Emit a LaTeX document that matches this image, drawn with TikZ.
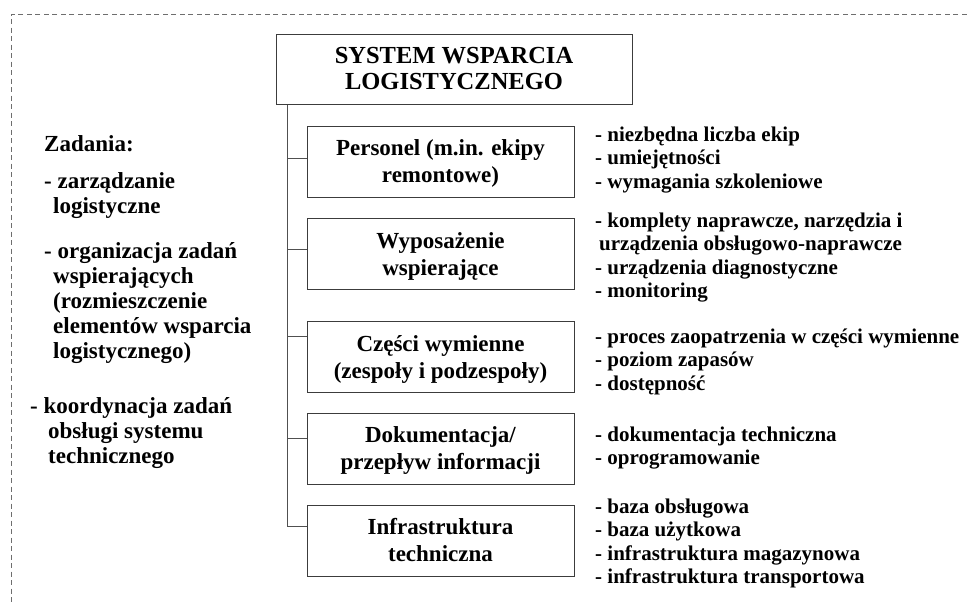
\documentclass[tikz,border=0pt]{standalone}
\usepackage{fontspec}
\setmainfont{Liberation Serif}
\newcommand{\fntTitle}{\bfseries\fontsize{24.5}{26}\selectfont}
\newcommand{\fntBox}{\bfseries\fontsize{23}{27}\selectfont}
\newcommand{\fntLeft}{\bfseries\fontsize{23}{25}\selectfont}
\newcommand{\fntRight}{\bfseries\fontsize{21}{23.5}\selectfont}
% stacked lines whose baseline is the first line
\newcommand{\LinesL}[1]{\begin{tabular}[t]{@{}l@{}}#1\end{tabular}}
% centred lines, set a little lower than the geometric centre
\newcommand{\LinesC}[1]{\raisebox{-2.5pt}[\height][\depth]{\begin{tabular}{@{}c@{}}#1\end{tabular}}}
\definecolor{boxgray}{HTML}{3C3C3C}
\definecolor{conngray}{HTML}{505050}
\definecolor{framegray}{HTML}{6E6E6E}
\begin{document}
\begin{tikzpicture}[x=1pt,y=-1pt,
  topbox/.style={draw=boxgray, line width=1pt, minimum width=356pt, minimum height=70pt, inner sep=0pt, font=\fntTitle},
  subbox/.style={draw=boxgray, line width=1pt, minimum width=267pt, minimum height=71pt, inner sep=0pt, font=\fntBox},
  conn/.style={draw=conngray, line width=0.9pt},
  frame/.style={draw=framegray, line width=0.9pt, dash pattern=on 5pt off 3.5pt},
  lefttext/.style={inner sep=0pt, anchor=base west, font=\fntLeft},
  righttext/.style={inner sep=0pt, anchor=base west, font=\fntRight}]
\useasboundingbox (0,0) rectangle (969,603);
\fill[white] (0,0) rectangle (969,603);

% outer dashed frame (open towards the right and bottom)
\draw[frame] (975,14) -- (11,14) -- (11,610);

% main box and its five components
\node[topbox] (top) at (454,69) {\LinesC{SYSTEM WSPARCIA\\LOGISTYCZNEGO}};
\node[subbox] (b1) at (440.5,161.5) {\LinesC{Personel (m.in. ekipy\\remontowe)}};
\node[subbox] (b2) at (440.5,254) {\LinesC{Wyposażenie\\wspierające}};
\node[subbox] (b3) at (440.5,357) {\LinesC{Części wymienne\\(zespoły i podzespoły)}};
\node[subbox] (b4) at (440.5,448.5) {\LinesC{Dokumentacja/\\przepływ informacji}};
\node[subbox] (b5) at (440.5,540.5) {\LinesC{Infrastruktura\\techniczna}};

% tree connectors
\coordinate (tx) at (287,0);
\coordinate (j1) at (287,158);
\coordinate (j2) at (287,249);
\coordinate (j3) at (287,336);
\coordinate (j4) at (287,438);
\coordinate (j5) at (287,526);
\draw[conn] (top.south -| tx) -- (j5) -- (j5 -| b5.west);
\draw[conn] (j1) -- (j1 -| b1.west);
\draw[conn] (j2) -- (j2 -| b2.west);
\draw[conn] (j3) -- (j3 -| b3.west);
\draw[conn] (j4) -- (j4 -| b4.west);

% tasks on the left
\node[lefttext] (zad) at (44,151) {Zadania:};
\node[lefttext] (t1) at (44,188) {\LinesL{- zarządzanie\\\hspace*{9pt}logistyczne}};
\node[lefttext] (t2) at (44,258) {\LinesL{- organizacja zadań\\\hspace*{9pt}wspierających\\\hspace*{9pt}(rozmieszczenie\\\hspace*{9pt}elementów wsparcia\\\hspace*{9pt}logistycznego)}};
\node[lefttext] (t3) at (30,413) {\LinesL{- koordynacja zadań\\\hspace*{18pt}obsługi systemu\\\hspace*{18pt}technicznego}};

% details on the right of each component
\node[righttext] (r1) at (595,141) {\LinesL{- niezbędna liczba ekip\\- umiejętności\\- wymagania szkoleniowe}};
\node[righttext] (r2) at (595,227) {\LinesL{- komplety naprawcze, narzędzia i\\\hspace*{4pt}urządzenia obsługowo-naprawcze\\- urządzenia diagnostyczne\\- monitoring}};
\node[righttext] (r3) at (595,343) {\LinesL{- proces zaopatrzenia w części wymienne\\- poziom zapasów\\- dostępność}};
\node[righttext] (r4) at (595,441) {\LinesL{- dokumentacja techniczna\\- oprogramowanie}};
\node[righttext] (r5) at (595,513) {\LinesL{- baza obsługowa\\- baza użytkowa\\- infrastruktura magazynowa\\- infrastruktura transportowa}};
\end{tikzpicture}
\end{document}
